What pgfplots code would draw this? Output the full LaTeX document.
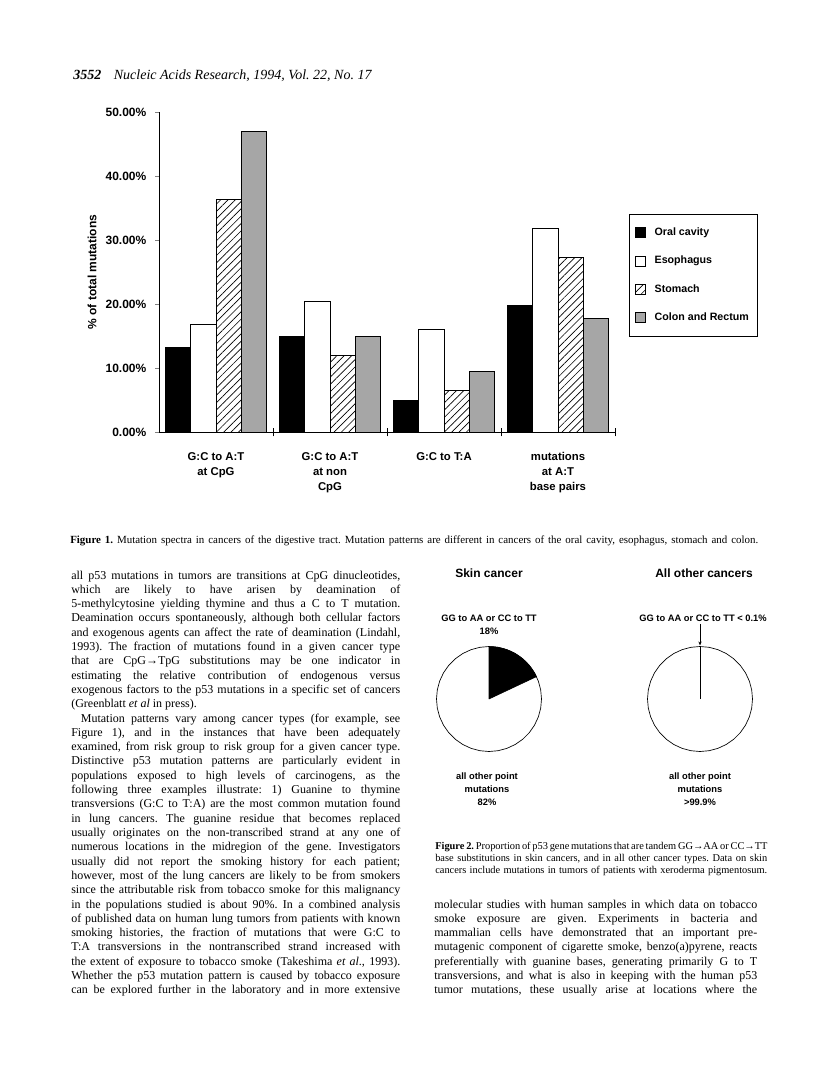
\documentclass[border=0pt]{standalone}
\usepackage{fontspec}
\setmainfont{Liberation Serif}
\newfontfamily\hv{Liberation Sans}
\usepackage{pgfplots}
\pgfplotsset{compat=1.18}
\usepackage{pgfplotstable}
\usetikzlibrary{patterns.meta,arrows.meta}

\pgfplotstableread{
x oral eso stom colon
0.5 13.2 16.8 36.4 47.0
1.5 14.9 20.4 11.9 15.0
2.5 5.0 16.0 6.5 9.5
3.5 19.8 31.8 27.3 17.8
}\mutdata

\newlength\colw
\newcommand\jl[1]{\hbox to \colw{#1}}
\newcommand\lastl[1]{\hbox to \colw{#1\hfil}}

\pgfplotsset{mybar/.style={ybar, bar width=18.9pt, line width=0.6pt, draw=black,
  legend image code/.code={\draw[##1, line width=0.5pt] (0pt,-3.75pt) rectangle (7.5pt,3.75pt);}}}

\begin{document}
\frenchspacing
\begin{tikzpicture}
\path[use as bounding box] (0,0) rectangle (612pt,-806.25pt);
\begin{scope}[x=0.75pt,y=-0.75pt]
% header
\node[anchor=base west,inner sep=0pt] at (73,79) {\fontsize{10.5}{12}\selectfont\textbf{\textit{3552}}\hspace{0.9em}\textit{Nucleic Acids Research, 1994, Vol. 22, No. 17}};
% figure 1 caption
\node[anchor=base west,inner sep=0pt] at (70,543) {\fontsize{8.2}{9}\selectfont\hbox to 516pt{\textbf{Figure 1.} Mutation spectra in cancers of the digestive tract. Mutation patterns are different in cancers of the oral cavity, esophagus, stomach and colon.}};
% left column
\node[anchor=base west,inner sep=0pt] at (71,579) {\fontsize{9}{10.73}\selectfont\setlength\colw{246.75pt}\vtop{
\jl{all p53 mutations in tumors are transitions at CpG dinucleotides,}
\jl{which are likely to have arisen by deamination of}
\jl{5-methylcytosine yielding thymine and thus a C to T mutation.}
\jl{Deamination occurs spontaneously, although both cellular factors}
\jl{and exogenous agents can affect the rate of deamination (Lindahl,}
\jl{1993). The fraction of mutations found in a given cancer type}
\jl{that are CpG→TpG substitutions may be one indicator in}
\jl{estimating the relative contribution of endogenous versus}
\jl{exogenous factors to the p53 mutations in a specific set of cancers}
\lastl{(Greenblatt \textit{et al} in press).}
\jl{\hskip 0.8em Mutation patterns vary among cancer types (for example, see}
\jl{Figure 1), and in the instances that have been adequately}
\jl{examined, from risk group to risk group for a given cancer type.}
\jl{Distinctive p53 mutation patterns are particularly evident in}
\jl{populations exposed to high levels of carcinogens, as the}
\jl{following three examples illustrate: 1) Guanine to thymine}
\jl{transversions (G:C to T:A) are the most common mutation found}
\jl{in lung cancers. The guanine residue that becomes replaced}
\jl{usually originates on the non-transcribed strand at any one of}
\jl{numerous locations in the midregion of the gene. Investigators}
\jl{usually did not report the smoking history for each patient;}
\jl{however, most of the lung cancers are likely to be from smokers}
\jl{since the attributable risk from tobacco smoke for this malignancy}
\jl{in the populations studied is about 90\%. In a combined analysis}
\jl{of published data on human lung tumors from patients with known}
\jl{smoking histories, the fraction of mutations that were G:C to}
\jl{T:A transversions in the nontranscribed strand increased with}
\jl{the extent of exposure to tobacco smoke (Takeshima \textit{et al}., 1993).}
\jl{Whether the p53 mutation pattern is caused by tobacco exposure}
\jl{can be explored further in the laboratory and in more extensive}
}};
% right column body
\node[anchor=base west,inner sep=0pt] at (434,908) {\fontsize{9}{10.73}\selectfont\setlength\colw{242.25pt}\vtop{
\jl{molecular studies with human samples in which data on tobacco}
\jl{smoke exposure are given. Experiments in bacteria and}
\jl{mammalian cells have demonstrated that an important pre-}
\jl{mutagenic component of cigarette smoke, benzo(a)pyrene, reacts}
\jl{preferentially with guanine bases, generating primarily G to T}
\jl{transversions, and what is also in keeping with the human p53}
\jl{tumor mutations, these usually arise at locations where the}
}};
% figure 2 caption
\node[anchor=base west,inner sep=0pt] at (435,849) {\fontsize{7.8}{9}\selectfont\setlength\colw{249pt}\vtop{
\jl{\textbf{Figure 2.} Proportion of p53 gene mutations that are tandem GG→AA or CC→TT}
\jl{base substitutions in skin cancers, and in all other cancer types. Data on skin}
\jl{cancers include mutations in tumors of patients with xeroderma pigmentosum.}
}};
% figure 2 titles and labels
\node[inner sep=0pt,font=\hv\bfseries\fontsize{9}{10}\selectfont] at (489,573) {Skin cancer};
\node[inner sep=0pt,font=\hv\bfseries\fontsize{9}{10}\selectfont] at (704,573) {All other cancers};
\node[inner sep=0pt,align=center,font=\hv\bfseries\fontsize{7}{10}\selectfont] at (489,625) {GG to AA or CC to TT\\18\%};
\node[inner sep=0pt,font=\hv\bfseries\fontsize{7}{8}\selectfont] at (703,618) {GG to AA or CC to TT < 0.1\%};
\node[inner sep=0pt,align=center,font=\hv\bfseries\fontsize{7}{9.5}\selectfont] at (487,789) {all other point\\mutations\\82\%};
\node[inner sep=0pt,align=center,font=\hv\bfseries\fontsize{7}{9.5}\selectfont] at (700,789) {all other point\\mutations\\>99.9\%};
\end{scope}

% ---------- Figure 1 bar chart ----------
\begin{axis}[
  at={(119.25pt,-324pt)}, anchor=south west,
  scale only axis, width=342pt, height=240pt,
  xmin=0, xmax=4, ymin=0, ymax=50,
  axis x line*=bottom, axis y line*=left,
  axis line style={line width=0.6pt},
  clip=false,
  ytick={0,10,20,30,40,50},
  tick align=outside, major tick length=3pt,
  /pgf/number format/assume math mode=true,
  yticklabel={\pgfmathprintnumber[fixed,fixed zerofill,precision=2]{\tick}\%},
  yticklabel style={font=\hv\bfseries\fontsize{9}{10}\selectfont, xshift=-3pt},
  xtick={0.5,1.5,2.5,3.5},
  xticklabels={{G:C to A:T\\at CpG},{G:C to A:T\\at non\\CpG},{G:C to T:A},{mutations\\at A:T\\base pairs}},
  xticklabel style={align=center, anchor=north, font=\hv\bfseries\fontsize{8.5}{11.25}\selectfont, yshift=-9pt},
  x tick style={draw=none},
  y tick style={line width=0.6pt},
  ylabel={\% of total mutations},
  ylabel style={at={(axis description cs:-0.147,0.5)}, anchor=center, font=\hv\bfseries\fontsize{9}{10}\selectfont},
  legend style={at={(1.0307,0.681)}, anchor=north west, draw=black, line width=0.5pt,
    font=\hv\bfseries\fontsize{8}{9}\selectfont, inner xsep=4pt, inner ysep=8pt, row sep=10pt,
    /tikz/every odd column/.append style={column sep=5pt},
    legend cell align=left},
]
\addplot[mybar, fill=black, bar shift=-28.35pt] table[x=x,y=oral]{\mutdata};
\addlegendentry{Oral cavity}
\addplot[mybar, fill=white, bar shift=-9.45pt] table[x=x,y=eso]{\mutdata};
\addlegendentry{Esophagus}
\addplot[mybar, fill=white, postaction={pattern={Lines[angle=45,distance=3.9pt,line width=0.5pt]}}, bar shift=9.45pt] table[x=x,y=stom]{\mutdata};
\addlegendentry{Stomach}
\addplot[mybar, fill=black!35, bar shift=28.35pt] table[x=x,y=colon]{\mutdata};
\addlegendentry{Colon and Rectum}
\addplot[black, line width=0.6pt, sharp plot, forget plot] coordinates {(1,-0.7) (1,0.7)};
\addplot[black, line width=0.6pt, sharp plot, forget plot] coordinates {(2,-0.7) (2,0.7)};
\addplot[black, line width=0.6pt, sharp plot, forget plot] coordinates {(3,-0.7) (3,0.7)};
\addplot[black, line width=0.6pt, sharp plot, forget plot] coordinates {(4,-0.7) (4,0.7)};
\end{axis}

% ---------- Figure 2 pies ----------
\begin{axis}[
  at={(366.75pt,-524.25pt)}, anchor=center,
  scale only axis, width=78.75pt, height=78.75pt,
  xmin=-1, xmax=1, ymin=-1, ymax=1, hide axis, clip=false]
\addplot[fill=black, draw=black, line width=0.4pt] coordinates {(0,0) (0,1) (0.0872,0.9962) (0.1736,0.9848) (0.2588,0.9659) (0.3420,0.9397) (0.4226,0.9063) (0.5,0.8660) (0.5736,0.8192) (0.6428,0.7660) (0.7071,0.7071) (0.7660,0.6428) (0.8192,0.5736) (0.8660,0.5) (0.9048,0.4258) (0,0)};
\addplot[black, line width=0.5pt] coordinates {(1,0) (0.9848,0.1736) (0.9397,0.3420) (0.8660,0.5) (0.7660,0.6428) (0.6428,0.7660) (0.5,0.8660) (0.3420,0.9397) (0.1736,0.9848) (0,1) (-0.1736,0.9848) (-0.3420,0.9397) (-0.5,0.8660) (-0.6428,0.7660) (-0.7660,0.6428) (-0.8660,0.5) (-0.9397,0.3420) (-0.9848,0.1736) (-1,0) (-0.9848,-0.1736) (-0.9397,-0.3420) (-0.8660,-0.5) (-0.7660,-0.6428) (-0.6428,-0.7660) (-0.5,-0.8660) (-0.3420,-0.9397) (-0.1736,-0.9848) (0,-1) (0.1736,-0.9848) (0.3420,-0.9397) (0.5,-0.8660) (0.6428,-0.7660) (0.7660,-0.6428) (0.8660,-0.5) (0.9397,-0.3420) (0.9848,-0.1736) (1,0)};
\end{axis}
\begin{axis}[
  at={(525pt,-524.25pt)}, anchor=center,
  scale only axis, width=78.75pt, height=78.75pt,
  xmin=-1, xmax=1, ymin=-1, ymax=1, hide axis, clip=false]
\addplot[black, line width=0.5pt] coordinates {(1,0) (0.9848,0.1736) (0.9397,0.3420) (0.8660,0.5) (0.7660,0.6428) (0.6428,0.7660) (0.5,0.8660) (0.3420,0.9397) (0.1736,0.9848) (0,1) (-0.1736,0.9848) (-0.3420,0.9397) (-0.5,0.8660) (-0.6428,0.7660) (-0.7660,0.6428) (-0.8660,0.5) (-0.9397,0.3420) (-0.9848,0.1736) (-1,0) (-0.9848,-0.1736) (-0.9397,-0.3420) (-0.8660,-0.5) (-0.7660,-0.6428) (-0.6428,-0.7660) (-0.5,-0.8660) (-0.3420,-0.9397) (-0.1736,-0.9848) (0,-1) (0.1736,-0.9848) (0.3420,-0.9397) (0.5,-0.8660) (0.6428,-0.7660) (0.7660,-0.6428) (0.8660,-0.5) (0.9397,-0.3420) (0.9848,-0.1736) (1,0)};
\addplot[black, line width=0.5pt] coordinates {(0,0) (0,1)};
\addplot[black, line width=0.5pt, -{Stealth[length=3pt,width=2.5pt]}] coordinates {(0,1.43) (0,1.02)};
\end{axis}
\end{tikzpicture}
\end{document}
